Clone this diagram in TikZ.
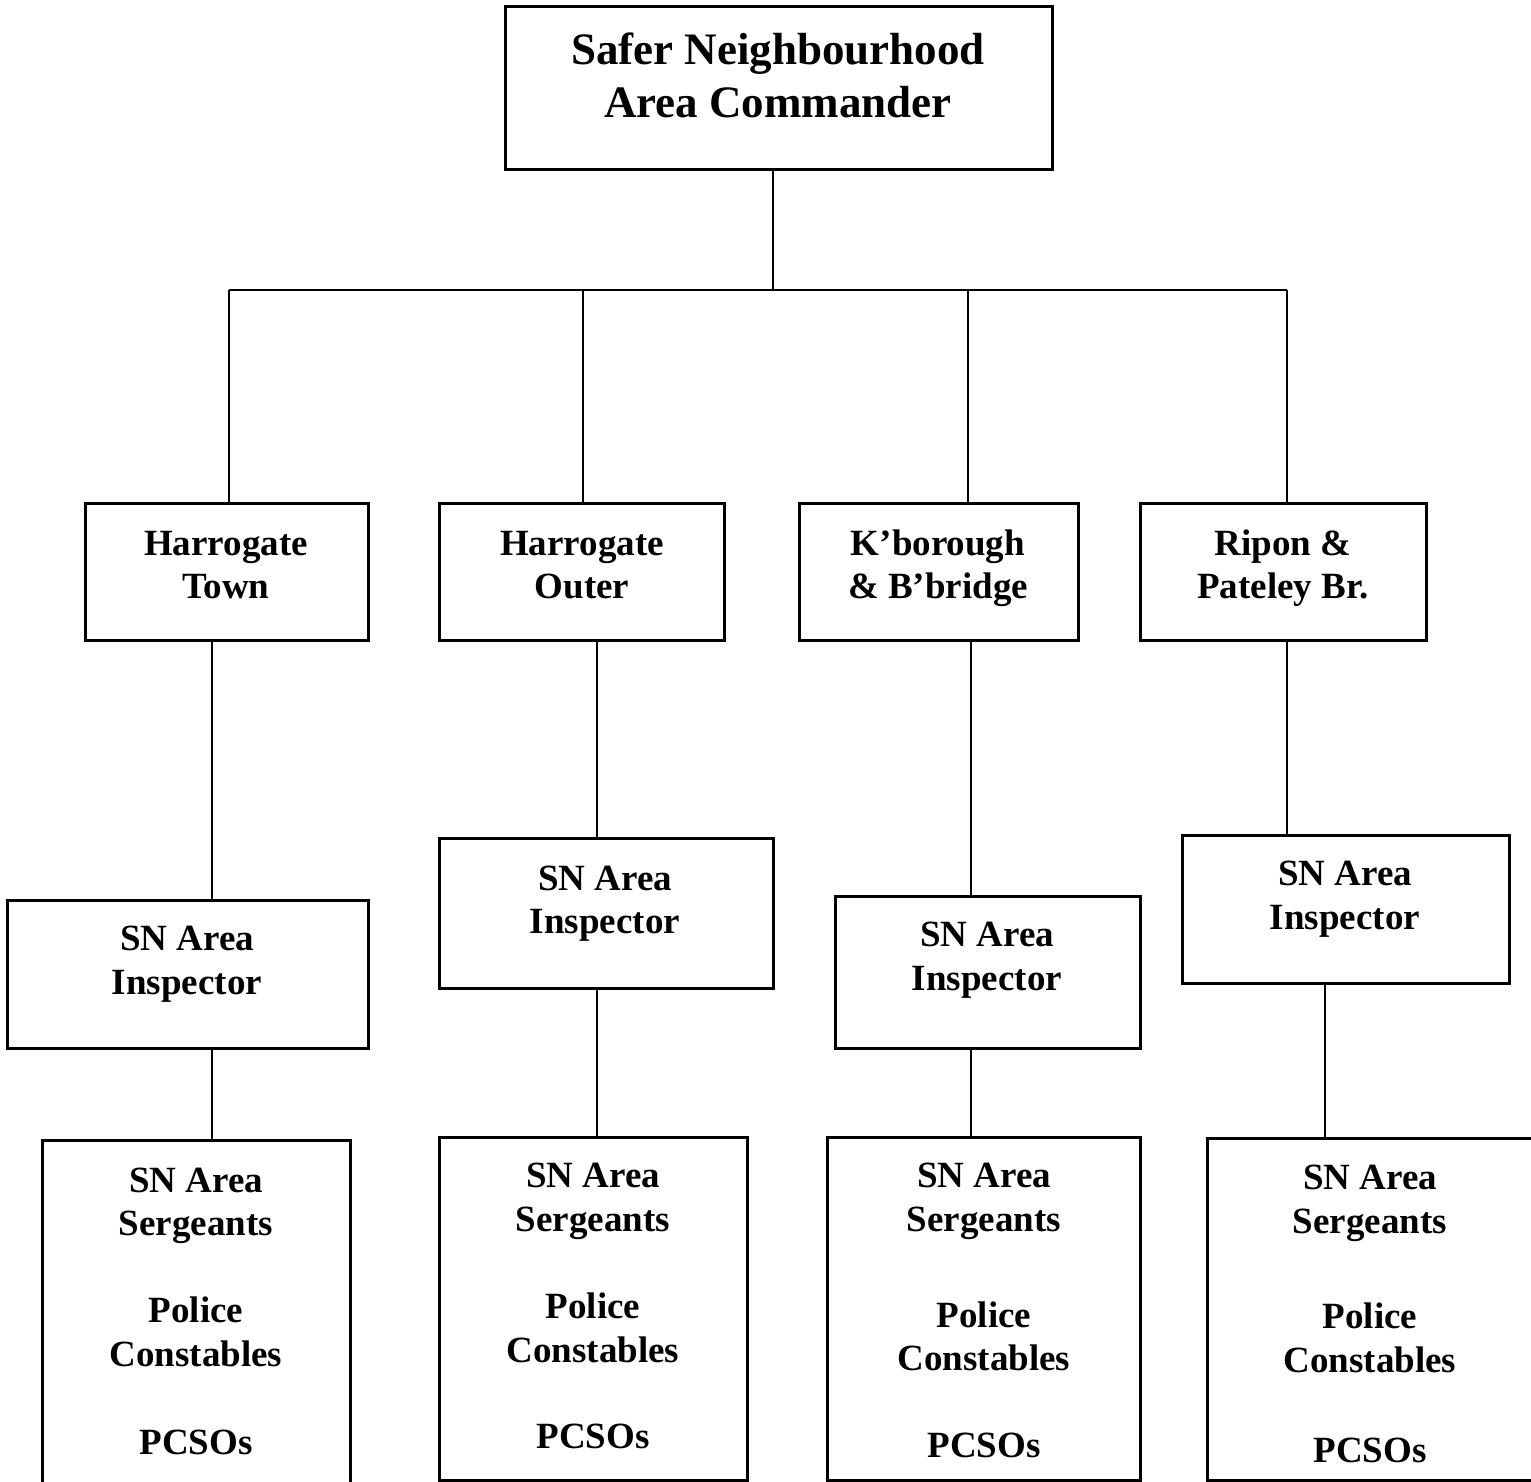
\documentclass[tikz,border=0pt]{standalone}
\usepackage{fontspec}
\setmainfont{Liberation Serif}
\begin{document}
\begin{tikzpicture}[x=0.5pt,y=-0.5pt,
  box/.style={draw=black,line width=1.5pt,inner sep=0pt,rectangle},
  conn/.style={draw=black,line width=1.1pt},
  txt/.style={inner sep=0pt,align=center,font=\fontsize{18.5pt}{21.75pt}\selectfont\bfseries},
  toptxt/.style={inner sep=0pt,align=center,font=\fontsize{22.5pt}{26.5pt}\selectfont\bfseries}]
\useasboundingbox (0,0) rectangle (1531,1482);
\begin{scope}
\clip (0,0) rectangle (1531,1482);
% top
\node[box,minimum width=547*0.5pt,minimum height=163*0.5pt] (top) at (778.5,88.5) {};
\node[toptxt] (toptext) at (778,75) {Safer Neighbourhood\\Area Commander};
% level 2
\node[box,minimum width=283*0.5pt,minimum height=137*0.5pt] (h1) at (226.5,571.5) {};
\node[box,minimum width=285*0.5pt,minimum height=137*0.5pt] (h2) at (581.5,571.5) {};
\node[box,minimum width=279*0.5pt,minimum height=137*0.5pt] (h3) at (938.5,571.5) {};
\node[box,minimum width=286*0.5pt,minimum height=137*0.5pt] (h4) at (1283,571.5) {};
\node[txt] (h1t) at (226,565) {Harrogate\\Town};
\node[txt] (h2t) at (582,565) {Harrogate\\Outer};
\node[txt] (h3t) at (938,568) {K’borough\\\& B’bridge};
\node[txt] (h4t) at (1283,568) {Ripon \&\\Pateley Br.};
% level 3
\node[box,minimum width=361*0.5pt,minimum height=148*0.5pt] (i1) at (187.5,974) {};
\node[box,minimum width=334*0.5pt,minimum height=150*0.5pt] (i2) at (606,913) {};
\node[box,minimum width=305*0.5pt,minimum height=152*0.5pt] (i3) at (987.5,972) {};
\node[box,minimum width=327*0.5pt,minimum height=148*0.5pt] (i4) at (1345.5,909) {};
\node[txt] (i1t) at (187,964) {SN Area\\Inspector};
\node[txt] (i2t) at (605,903.5) {SN Area\\Inspector};
\node[txt] (i3t) at (987,960) {SN Area\\Inspector};
\node[txt] (i4t) at (1345,899) {SN Area\\Inspector};
% level 4
\node[box,minimum width=308*0.5pt,minimum height=360*0.5pt] (s1) at (196,1320) {};
\node[box,minimum width=308*0.5pt,minimum height=343*0.5pt] (s2) at (593,1308.5) {};
\node[box,minimum width=313*0.5pt,minimum height=343*0.5pt] (s3) at (983.5,1308.5) {};
\node[box,minimum width=338*0.5pt,minimum height=342*0.5pt] (s4) at (1376,1309) {};
\node[txt] (s1a) at (196,1206) {SN Area\\Sergeants};
\node[txt] (s1b) at (196,1332) {Police\\Constables};
\node[txt] (s1c) at (196,1442) {PCSOs};
\node[txt] (s2a) at (593,1201.5) {SN Area\\Sergeants};
\node[txt] (s2b) at (593,1328) {Police\\Constables};
\node[txt] (s2c) at (593,1436) {PCSOs};
\node[txt] (s3a) at (984,1201.5) {SN Area\\Sergeants};
\node[txt] (s3b) at (984,1336.5) {Police\\Constables};
\node[txt] (s3c) at (984,1445) {PCSOs};
\node[txt] (s4a) at (1370,1203.5) {SN Area\\Sergeants};
\node[txt] (s4b) at (1370,1338) {Police\\Constables};
\node[txt] (s4c) at (1370,1450) {PCSOs};
% connector coordinates
\coordinate (bus) at (773,290);
\coordinate (b1) at (229,290);
\coordinate (b2) at (583,290);
\coordinate (b3) at (968,290);
\coordinate (b4) at (1287,290);
\coordinate (v1) at (212,0);
\coordinate (v2) at (597,0);
\coordinate (v3) at (971,0);
\coordinate (v4) at (1287,0);
\coordinate (w1) at (212,0);
\coordinate (w2) at (597,0);
\coordinate (w3) at (971,0);
\coordinate (w4) at (1325,0);
% connectors
\draw[conn] (top.south -| bus) -- (bus);
\draw[conn] (b1) -- (b4);
\draw[conn] (b1) -- (b1 |- h1.north);
\draw[conn] (b2) -- (b2 |- h2.north);
\draw[conn] (b3) -- (b3 |- h3.north);
\draw[conn] (b4) -- (b4 |- h4.north);
\draw[conn] (h1.south -| v1) -- (i1.north -| v1);
\draw[conn] (h2.south -| v2) -- (i2.north -| v2);
\draw[conn] (h3.south -| v3) -- (i3.north -| v3);
\draw[conn] (h4.south -| v4) -- (i4.north -| v4);
\draw[conn] (i1.south -| w1) -- (s1.north -| w1);
\draw[conn] (i2.south -| w2) -- (s2.north -| w2);
\draw[conn] (i3.south -| w3) -- (s3.north -| w3);
\draw[conn] (i4.south -| w4) -- (s4.north -| w4);
\end{scope}
\end{tikzpicture}
\end{document}
